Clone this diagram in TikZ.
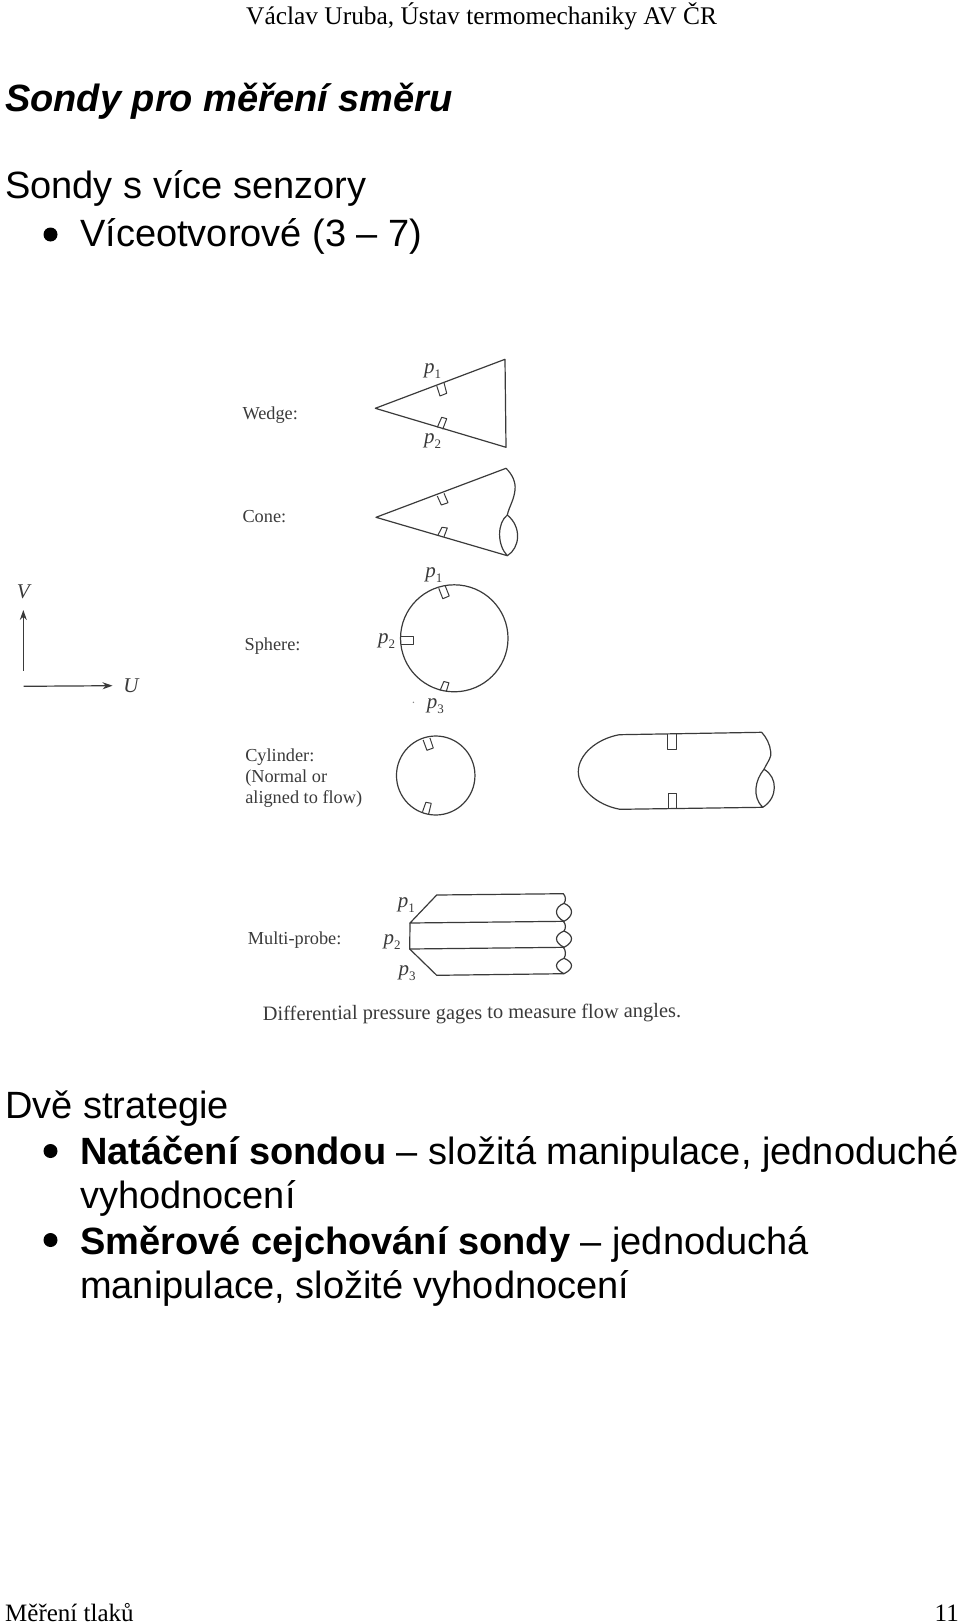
\documentclass[tikz,border=0pt]{standalone}
\usepackage{fontspec}
\setmainfont{Liberation Sans}
\newfontfamily\serifface{Liberation Serif}
\usetikzlibrary{arrows.meta}
\definecolor{ink}{HTML}{3A3A3A}
\tikzset{
  body/.style={inner sep=0pt,anchor=base west,font=\fontsize{38}{38}\selectfont,text=black},
  bodyright/.style={inner sep=0pt,anchor=base east,font=\serifface\fontsize{25}{25}\selectfont,text=black},
  runhead/.style={inner sep=0pt,anchor=base west,font=\serifface\fontsize{25.4}{25.4}\selectfont,text=black},
  scan/.style={inner sep=0pt,anchor=base west,font=\serifface\fontsize{18.3}{18.3}\selectfont,text=ink},
  scanital/.style={inner sep=0pt,anchor=base west,font=\serifface\itshape\fontsize{21}{21}\selectfont,text=ink},
  probe/.style={draw=ink,line width=1.2pt,line join=round,line cap=round},
  sensor/.style={draw=ink,line width=1pt,line join=round},
  axis/.style={draw=ink,line width=1.2pt,-{Stealth[length=10pt,width=7pt]}},
  dotmark/.style={circle,fill=black,inner sep=0pt,minimum size=14pt},
}
\newcommand{\psub}[1]{p\raisebox{-5pt}{\upshape\fontsize{13}{13}\selectfont #1}}
\begin{document}
\begin{tikzpicture}[x=1pt,y=-1pt]
\useasboundingbox (0,0) rectangle (960,1624);
% page texts
\node[runhead] (hdr) at (246,25) {Václav Uruba, Ústav termomechaniky AV ČR};
\node[body,font=\bfseries\itshape\fontsize{38}{38}\selectfont] (title) at (5,112) {Sondy pro měření směru};
\node[body] (l1) at (5,199) {Sondy s více senzory};
\node[dotmark] (b1) at (50.5,234.5) {};
\node[body] (l2) at (80,246) {Víceotvorové (3 – 7)};
\node[body] (l3) at (5,1118) {Dvě strategie};
\node[dotmark] (b2) at (50.5,1151) {};
\node[body] (l4) at (80,1164) {\textbf{Natáčení sondou} – složitá manipulace, jednoduché};
\node[body] (l5) at (80,1208) {vyhodnocení};
\node[dotmark] (b3) at (50.5,1240) {};
\node[body] (l6) at (80,1254) {\textbf{Směrové cejchování sondy} – jednoduchá};
\node[body] (l7) at (80,1298) {manipulace, složité vyhodnocení};
\node[runhead,font=\serifface\fontsize{25}{25}\selectfont] (ftl) at (5,1621.5) {Měření tlaků};
\node[bodyright] (ftr) at (959,1621.5) {11};
% wedge
\node[scan] (wedge) at (242.3,419.5) {Wedge:};
\draw[probe] (505,359.3) -- (375.3,408.3) -- (506,447.3) -- cycle;
\draw[sensor] (436.7,385.7) -- (440,396) -- (446.7,393.3) -- (444,382.7);
\draw[sensor] (437.3,427.3) -- (441.7,417.3) -- (446.7,418.7) -- (442.7,429.3);
\node[scanital] (wp1) at (424,373) {\psub{1}};
\node[scanital] (wp2) at (424,443) {\psub{2}};
% cone
\node[scan] (cone) at (242.3,522.5) {Cone:};
\draw[probe] (507.3,555.7) -- (376,517.3) -- (506,468.3)
  .. controls (512,474) and (516,482) .. (515,490)
  .. controls (514,500) and (509,507) .. (507.3,515)
  .. controls (497,523) and (497,545) .. (507.3,555.7)
  .. controls (520,548) and (522,527) .. (507.3,515);
\draw[sensor] (437.3,496) -- (441.3,505) -- (448,502.7) -- (444,493.3);
\draw[sensor] (438,535) -- (442,527.3) -- (447.3,528) -- (444,536.7);
\begin{scope}[xscale=1.014]
% axes
\coordinate (vs) at (23,670.7); \coordinate (ve) at (23,610);
\coordinate (us) at (23.3,686.3); \coordinate (ue) at (111,685.7);
\draw[axis] (vs) -- (ve);
\draw[axis] (us) -- (ue);
\node[scanital] (V) at (16.5,598.7) {V};
\node[scanital] (U) at (121.5,692.7) {U};
% sphere
\node[scan] (sphere) at (241,650) {Sphere:};
\draw[probe] (448,638.3) ellipse[x radius=53,y radius=53.5];
\draw[sensor] (432.7,588.3) -- (436.7,598.7) -- (443,596) -- (439,585.7);
\draw[sensor] (395.7,636.7) -- (408,636.7) -- (408,644) -- (395.7,644);
\draw[sensor] (434,690.5) -- (437.7,681.5) -- (442.7,682.8) -- (440,691.8);
\node[scanital] (sp1) at (419.3,577) {\psub{1}};
\node[scanital] (sp2) at (372.7,643) {\psub{2}};
\node[scanital] (sp3) at (420.7,708) {\psub{3}};
\fill[ink!60] (407.7,702.3) circle[radius=0.8];
% cylinder
\node[scan] (cyl1) at (241.7,761.7) {Cylinder:};
\node[scan] (cyl2) at (241.7,782.3) {(Normal or};
\node[scan] (cyl3) at (241.7,803) {aligned to flow)};
\draw[probe] (429.7,775.5) ellipse[x radius=38.7,y radius=39.5];
\draw[sensor] (417.3,740) -- (421,750.3) -- (427.3,748) -- (424,738);
\draw[sensor] (416.7,811.7) -- (420,802.3) -- (425.3,803.3) -- (422.7,814);
\end{scope}
% capsule
\draw[probe] (761.7,732.3) -- (619.3,734.7)
  .. controls (596,739) and (578.3,755) .. (578.3,771.7)
  .. controls (578.3,788) and (596,805) .. (620,809.3)
  -- (762.7,807.3)
  .. controls (752,797) and (755,780) .. (764,769.3)
  .. controls (768,761) and (772,757) .. (770.7,751.7)
  .. controls (770,744) and (766,737) .. (761.7,732.3);
\draw[probe] (764,769.3) .. controls (778,777) and (778,798) .. (762.7,807.3);
\draw[sensor] (667.3,734.3) -- (667.3,749.7) -- (676,749.7) -- (676,734);
\draw[sensor] (668,808.7) -- (668,793) -- (676.7,793) -- (676.7,808.7);
% multi-probe
\node[scan] (multi) at (247.7,944) {Multi-probe:};
\draw[probe] (564,921.3) -- (410,923) -- (436.7,895) -- (563.3,893.7);
\draw[probe] (410,923) -- (409.7,949) -- (436.7,975.3) -- (564,973.7);
\draw[probe] (409.7,949) -- (564,947.3);
\foreach \ta/\la/\lb in {893.7/903.3/921.3, 921.3/931/947.3, 947.3/958.3/973.7}{
  \draw[probe] (563.3,\ta) .. controls (566,\ta+3) and (566,\la-3) .. (564,\la)
    .. controls (554,\la+4) and (554,\lb-5) .. (564,\lb)
    .. controls (574,\lb-5) and (574,\la+4) .. (564,\la);
}
\node[scanital] (mp1) at (397.7,907.5) {\psub{1}};
\node[scanital] (mp2) at (383.3,944) {\psub{2}};
\node[scanital] (mp3) at (398.3,975) {\psub{3}};
\node[scan,font=\serifface\fontsize{20.4}{20.4}\selectfont,rotate=0.4] (cap) at (262.7,1020.5) {Differential pressure gages to measure flow angles.};
\end{tikzpicture}
\end{document}
